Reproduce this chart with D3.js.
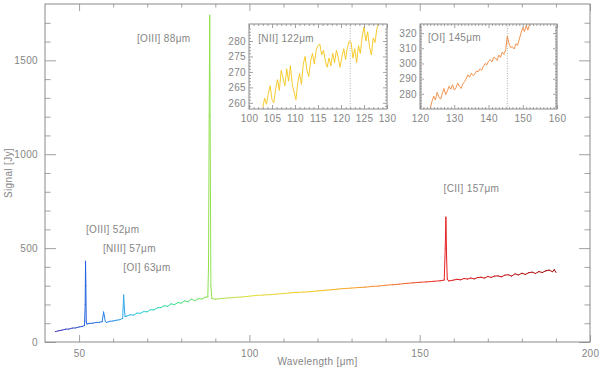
<!DOCTYPE html>
<html>
<head>
<meta charset="utf-8">
<script src="https://cdn.jsdelivr.net/npm/d3@7"></script>
<style>
  body { margin: 0; background: #fff; }
  text { font-family: "Liberation Sans", Arial, sans-serif; fill: #858585; letter-spacing: 0.35px; }
</style>
</head>
<body>
<div id="chart"></div>
<script>
const width = 600;
const height = 373;

// full spectrum (wavelength in micron, signal in Jy)
const specWave = [43, 44, 45, 46, 47, 48, 49, 50, 51, 51.6, 51.8, 51.9, 52.0, 52.1, 52.3, 53, 54, 55, 56, 56.8, 57.2, 57.4, 57.7, 58,
  59, 60, 61, 62, 62.8, 63.1, 63.3, 63.5, 64, 65, 66, 67, 68, 69, 70, 71, 72, 73, 74, 75, 76, 77, 78, 79, 80, 81, 82, 83, 84,
  85, 86, 87, 87.8, 88.0, 88.2, 88.35, 88.5, 88.7, 89.0, 90, 92, 94, 96, 98, 100, 102, 104, 106, 108, 110, 112, 114, 116, 118,
  120, 122, 124, 126, 128, 130, 132, 134, 136, 138, 140, 142, 144, 146, 148, 150, 152, 154, 156, 157.2, 157.5, 157.7, 157.9,
  158.1, 158.5, 160, 161, 162, 163, 164, 165, 166, 167, 168, 169, 170, 171, 172, 173, 174, 175, 176, 177, 178, 179, 180, 181,
  182, 183, 184, 185, 186, 187, 188, 189, 189.5, 190];
const specFlux = [55, 60, 63, 68, 69, 74, 75, 80, 83, 88, 200, 430, 300, 110, 96, 99, 100, 104, 105, 108, 160, 140, 110, 104,
  110, 112, 116, 119, 126, 250, 180, 136, 138, 145, 143, 154, 153, 162, 161, 172, 171, 182, 183, 193, 190, 203, 199, 210, 207,
  219, 215, 228, 220, 231, 229, 238, 240, 400, 1200, 1740, 1100, 300, 232, 228, 232, 235, 238, 240, 244, 248, 250, 252, 255,
  258, 262, 264, 266, 268, 272, 275, 278, 282, 285, 287, 290, 292, 296, 298, 302, 305, 308, 312, 315, 318, 320, 323, 326, 330,
  500, 665, 450, 335, 325, 330, 334, 331, 338, 335, 341, 336, 343, 345, 340, 349, 344, 351, 352, 347, 356, 358, 351, 363, 357,
  366, 360, 369, 372, 365, 375, 370, 379, 383, 374, 386, 370];

// [NII] 122 zoom
const nWave = [103.0, 103.4, 103.8, 104.2, 104.6, 105.0, 105.4, 105.8, 106.2, 106.6, 107.0, 107.4, 107.8, 108.2, 108.6, 109.0,
  109.4, 109.8, 110.2, 110.6, 111.0, 111.4, 111.8, 112.2, 112.6, 113.0, 113.4, 113.8, 114.2, 114.6, 115.0, 115.4, 115.8, 116.2,
  116.6, 117.0, 117.4, 117.8, 118.2, 118.6, 119.0, 119.4, 119.8, 120.2, 120.6, 121.0, 121.4, 121.8, 122.2, 122.6, 123.0, 123.4,
  123.8, 124.2, 124.6, 125.0, 125.4, 125.8, 126.2, 126.6, 127.0, 127.4, 127.8, 128.2];
const nFlux = [258.5, 261.5, 259.5, 263.0, 265.5, 261.0, 260.0, 264.5, 267.5, 264.0, 270.5, 268.0, 265.5, 271.0, 267.0, 272.0,
  266.0, 263.5, 261.0, 266.5, 269.5, 266.0, 272.5, 275.0, 270.5, 268.5, 273.5, 276.0, 272.5, 277.0, 278.5, 279.0, 275.5, 277.0,
  273.5, 271.5, 274.5, 272.0, 276.0, 273.0, 277.0, 274.5, 271.5, 275.0, 277.5, 274.0, 278.0, 280.0, 279.5, 274.5, 277.5, 273.0,
  278.5, 276.0, 281.5, 284.5, 280.0, 283.0, 278.0, 275.5, 281.0, 279.5, 284.0, 286.0];

// [OI] 145 zoom
const oWave = [123.0, 123.5, 124.0, 124.5, 125.0, 125.5, 126.0, 126.5, 127.0, 127.5, 128.0, 128.5, 129.0, 129.5, 130.0, 130.5,
  131.0, 131.5, 132.0, 132.5, 133.0, 133.5, 134.0, 134.5, 135.0, 135.5, 136.0, 136.5, 137.0, 137.5, 138.0, 138.5, 139.0, 139.5,
  140.0, 140.5, 141.0, 141.5, 142.0, 142.5, 143.0, 143.5, 144.0, 144.5, 145.0, 145.5, 146.0, 146.5, 147.0, 147.5, 148.0, 148.5,
  149.0, 149.5, 150.0, 150.5, 151.0, 151.5, 152.0];
const oFlux = [270.5, 275, 278.5, 276, 281, 278, 276.5, 280, 283.5, 279.5, 282, 285, 283, 286, 282.5, 284, 287, 285, 283.5,
  286.5, 288, 290, 292.5, 291, 293.5, 292, 293, 295, 294.5, 296.5, 295.5, 298, 300, 299, 301.5, 302.5, 301, 304, 303.5, 302,
  305.5, 304, 307.5, 306, 309, 318, 313, 310.5, 311, 309.5, 313, 312, 316, 320, 323.5, 321, 325, 322, 326];

// line labels: [text, wavelength, Jy]
const lineLabels = [
  ["[OIII] 88\u03bcm", 67, 1600],
  ["[OIII] 52\u03bcm", 52, 580],
  ["[NIII] 57\u03bcm", 57, 480],
  ["[OI] 63\u03bcm", 63, 380],
  ["[CII] 157\u03bcm", 157, 800]
];

const mainXTicks = [50, 100, 150, 200];
const mainYTicks = [0, 500, 1000, 1500];

const svg = d3.select("#chart").append("svg")
  .attr("width", width)
  .attr("height", height);

svg.append("rect").attr("width", width).attr("height", height).attr("fill", "#fff");

const x = d3.scaleLinear().domain([40, 200]).range([45, 590]);
const y = d3.scaleLinear().domain([0, 1800]).range([342, 4]);

// rainbow colour along wavelength
const colour = d3.scaleLinear()
  .domain([43, 52, 60, 68, 78, 88, 100, 120, 140, 157, 175, 190])
  .range(["#4a34b4", "#2462e0", "#3090f0", "#30d0e0", "#34e090", "#90e050", "#e0e040", "#f8c420", "#f88030", "#e82020", "#c01010", "#a00808"]);

// draws a framed box with inward ticks on all four sides
function drawAxes(g, xs, ys, o) {
  const [x0, x1] = xs.range();
  const [y0, y1] = ys.range();
  const lineCol = o.lineCol;

  const addAxis = (axis, tx, ty, labels) => {
    const a = g.append("g").attr("transform", `translate(${tx},${ty})`).call(axis);
    a.select(".domain").remove();
    a.selectAll("line").attr("stroke", lineCol).attr("stroke-width", 0.8);
    a.selectAll("text").style("font-size", o.font + "px").attr("fill", "#858585");
    if (!labels) a.selectAll("text").remove();
    return a;
  };

  // bottom
  addAxis(d3.axisBottom(xs).tickValues(o.xMajor).tickSize(-o.xLen).tickPadding(o.xPad).tickFormat(d3.format("d")), 0, y0, true);
  addAxis(d3.axisBottom(xs).tickValues(o.xMinor).tickSize(-o.xLen / 2).tickFormat(""), 0, y0, false);
  // top
  addAxis(d3.axisTop(xs).tickValues(o.xMajor).tickSize(-o.xLen), 0, y1, false);
  addAxis(d3.axisTop(xs).tickValues(o.xMinor).tickSize(-o.xLen / 2), 0, y1, false);
  // left
  addAxis(d3.axisLeft(ys).tickValues(o.yMajor).tickSize(-o.yLen).tickPadding(o.yPad).tickFormat(d3.format("d")), x0, 0, true);
  addAxis(d3.axisLeft(ys).tickValues(o.yMinor).tickSize(-o.yLen / 2).tickFormat(""), x0, 0, false);
  // right
  addAxis(d3.axisRight(ys).tickValues(o.yMajor).tickSize(-o.yLen), x1, 0, false);
  addAxis(d3.axisRight(ys).tickValues(o.yMinor).tickSize(-o.yLen / 2), x1, 0, false);

  g.append("rect")
    .attr("x", x0).attr("y", y1)
    .attr("width", x1 - x0).attr("height", y0 - y1)
    .attr("fill", "none").attr("stroke", lineCol).attr("stroke-width", 1);
}

// main spectrum, each segment coloured by wavelength
const main = svg.append("g");
const segs = d3.range(specWave.length - 1);
main.selectAll(".seg")
  .data(segs)
  .enter().append("line")
  .attr("class", "seg")
  .attr("x1", i => x(specWave[i]))
  .attr("y1", i => y(specFlux[i]))
  .attr("x2", i => x(specWave[i + 1]))
  .attr("y2", i => y(specFlux[i + 1]))
  .attr("stroke", i => colour((specWave[i] + specWave[i + 1]) / 2))
  .attr("stroke-width", 1)
  .attr("stroke-linecap", "round");

drawAxes(main, x, y, {
  xMajor: mainXTicks,
  xMinor: d3.range(50, 200, 10).filter(v => v % 50),
  yMajor: mainYTicks,
  yMinor: d3.range(100, 1800, 100).filter(v => v % 500),
  xLen: 7, yLen: 11, xPad: 8, yPad: 7, font: 10, lineCol: "#8a8a8a"
});

main.append("text")
  .attr("x", (x.range()[0] + x.range()[1]) / 2)
  .attr("y", 365)
  .attr("text-anchor", "middle")
  .style("font-size", "10px")
  .text("Wavelength [\u03bcm]");

main.append("text")
  .attr("transform", `translate(12,${(y.range()[0] + y.range()[1]) / 2}) rotate(-90)`)
  .attr("text-anchor", "middle")
  .style("font-size", "10px")
  .text("Signal [Jy]");

main.selectAll(".lbl")
  .data(lineLabels)
  .enter().append("text")
  .attr("class", "lbl")
  .attr("x", d => x(d[1]))
  .attr("y", d => y(d[2]))
  .style("font-size", "10px")
  .text(d => d[0]);

// insets
function inset(id, xs, ys, wave, flux, col, mark, label, o) {
  const g = svg.append("g");
  const [x0, x1] = xs.range();
  const [y0, y1] = ys.range();
  g.append("rect").attr("x", x0).attr("y", y1).attr("width", x1 - x0).attr("height", y0 - y1).attr("fill", "#fff");
  g.append("clipPath").attr("id", id)
    .append("rect").attr("x", x0).attr("y", y1).attr("width", x1 - x0).attr("height", y0 - y1);

  g.append("line")
    .attr("x1", xs(mark)).attr("x2", xs(mark))
    .attr("y1", y0).attr("y2", y1)
    .attr("stroke", "#999").attr("stroke-width", 0.8)
    .attr("stroke-dasharray", "1,1.5");

  const line = d3.line().x((d, i) => xs(wave[i])).y(d => ys(d));
  g.append("path")
    .datum(flux)
    .attr("clip-path", `url(#${id})`)
    .attr("d", line)
    .attr("fill", "none")
    .attr("stroke", col)
    .attr("stroke-width", 0.9);

  drawAxes(g, xs, ys, o);

  g.append("text")
    .attr("x", xs(label[1]))
    .attr("y", ys(label[2]))
    .style("font-size", "10px")
    .text(label[0]);
}

const nx = d3.scaleLinear().domain([100, 130]).range([249, 387]);
const ny = d3.scaleLinear().domain([258, 285.5]).range([109, 24]);
inset("clipN", nx, ny, nWave, nFlux, "#f5c518", 122, ["[NII] 122\u03bcm", 102, 279.7], {
  xMajor: [100, 105, 110, 115, 120, 125, 130],
  xMinor: d3.range(101, 130, 1).filter(v => v % 5),
  yMajor: [260, 265, 270, 275, 280],
  yMinor: d3.range(259, 286, 1).filter(v => v % 5),
  xLen: 4, yLen: 4, xPad: 6, yPad: 3, font: 10, lineCol: "#8a8a8a"
});

const ox = d3.scaleLinear().domain([120, 160]).range([420, 557]);
const oy = d3.scaleLinear().domain([270, 326]).range([109, 24]);
inset("clipO", ox, oy, oWave, oFlux, "#f0883c", 145.5, ["[OI] 145\u03bcm", 122.3, 314.8], {
  xMajor: [120, 130, 140, 150, 160],
  xMinor: d3.range(121, 160, 1).filter(v => v % 10),
  yMajor: [280, 290, 300, 310, 320],
  yMinor: d3.range(271, 326, 1).filter(v => v % 10),
  xLen: 4, yLen: 4, xPad: 6, yPad: 3, font: 10, lineCol: "#8a8a8a"
});
</script>
</body>
</html>
